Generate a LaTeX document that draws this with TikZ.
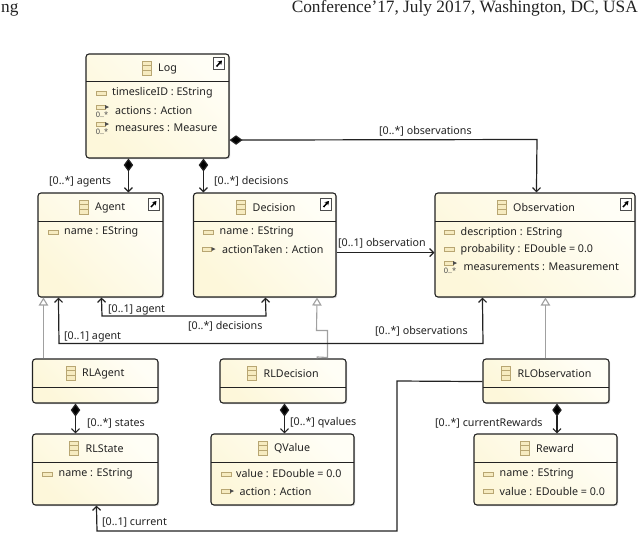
\documentclass[tikz,border=0pt]{standalone}
\usepackage{fontspec}
\setmainfont{Liberation Serif}
\newfontfamily\uml{Noto Sans}
\usetikzlibrary{arrows.meta,shadows,calc}
\definecolor{cA}{HTML}{FFFEF6}
\definecolor{cB}{HTML}{FDF7DA}
\definecolor{tan}{HTML}{B8A672}
\definecolor{tanf}{HTML}{F6EBC0}
\definecolor{inkc}{HTML}{222222}
\definecolor{gen}{HTML}{A0A0A0}
\tikzset{
 umlbox/.style={draw=inkc,line width=1.1pt,rounded corners=3pt,inner sep=0pt,
   left color=cA,right color=cB,shading angle=-45,
   drop shadow={shadow xshift=1.2pt,shadow yshift=-1.2pt,fill=black!30,opacity=.6}},
 lab/.style={font=\uml\fontsize{10.7}{12}\selectfont,text=inkc,inner sep=0pt,anchor=west,yshift=-1.3pt},
 ttl/.style={font=\uml\fontsize{10.7}{12}\selectfont,text=inkc,inner sep=0pt,anchor=west,yshift=-1pt},
 conn/.style={draw=inkc,line width=1.2pt,-{Straight Barb[length=4pt,width=8pt,line width=1.2pt]}},
 dconn/.style={draw=inkc,line width=1.2pt,{Straight Barb[length=4pt,width=8pt,line width=1.2pt]}-{Straight Barb[length=4pt,width=8pt,line width=1.2pt]}},
 comp/.style={draw=inkc,line width=1.2pt,{Diamond[length=13pt,width=9.5pt,fill=black]}-{Straight Barb[length=4pt,width=8pt,line width=1.2pt]}},
 gener/.style={draw=gen,line width=1.1pt,-{Triangle[open,length=8pt,width=9.5pt,fill=white]}},
 hdr/.style={font=\fontsize{17.3}{19}\selectfont,text=inkc,inner sep=0pt},
}
\newcommand{\ubox}[6]{% name x1 y1 x2 y2 yline
 \node[umlbox,minimum width=#4pt-#2pt,minimum height=#5pt-#3pt] (#1) at ({(#2+#4)/2},{(#3+#5)/2}) {};
 \draw[inkc,line width=.9pt] (#2,#6) -- (#4,#6);}
\newcommand{\clsicon}[2]{% cx cy
 \draw[tan,fill=tanf,line width=.8pt] (#1-4.5,#2-7) rectangle (#1+4.5,#2+7);
 \draw[tan,line width=.7pt] (#1-4.5,#2-2.3) -- (#1+4.5,#2-2.3) (#1-4.5,#2+2.3) -- (#1+4.5,#2+2.3);}
\newcommand{\attricon}[2]{\draw[tan,fill=tanf,line width=.9pt] (#1-5,#2-2) rectangle (#1+5,#2+2);}
\newcommand{\reficon}[2]{\draw[tan,fill=tanf,line width=.9pt] (#1-6,#2-2) rectangle (#1+3,#2+2);
 \fill[black!70] (#1+3,#2-2) -- (#1+7,#2) -- (#1+3,#2+2) -- cycle;}
\newcommand{\manyicon}[2]{\reficon{#1}{#2}
 \node[font=\uml\fontsize{7.5}{8}\selectfont\bfseries,text=black!70,inner sep=0pt] at (#1,#2+7.5) {0..*};}
\newcommand{\linkicon}[2]{\draw[black!70,fill=white,line width=.8pt] (#1-5.5,#2-6) rectangle (#1+5.5,#2+6);
 \draw[black,line width=1.5pt,-{Stealth[length=4pt,width=5pt]}] (#1-2.5,#2+3) -- (#1+3,#2-3);}
\begin{document}
\begin{tikzpicture}[x=1pt,y=-1pt]
\useasboundingbox[fill=white] (0,0) rectangle (640,533);
\node[hdr,anchor=base west] (hl) at (1,12.5) {ng};
\node[hdr,anchor=base east] (hr) at (638,12.5) {Conference'17, July 2017, Washington, DC, USA};

\ubox{log}{86}{54}{229}{158}{81}
\ubox{agent}{38}{193}{163}{297}{221}
\ubox{decision}{193.5}{193}{336}{297}{221}
\ubox{obs}{435}{193}{635}{297}{221}
\ubox{rlagent}{32.5}{359}{158}{403}{387}
\ubox{rldec}{220}{359}{346}{403}{387}
\ubox{rlobs}{483}{359}{609}{403}{387}
\ubox{rlstate}{32.5}{434}{158}{505}{462}
\ubox{qvalue}{211}{434}{354}{505}{462}
\ubox{reward}{474}{434}{617}{505}{462}

% titles
\clsicon{146.5}{68}\node[ttl] (t1) at (158,67.5) {Log};
\clsicon{83.5}{207}\node[ttl] (t2) at (95,206.5) {Agent};
\clsicon{241}{207}\node[ttl] (t3) at (252.5,206.5) {Decision};
\clsicon{501.5}{207}\node[ttl] (t4) at (513,206.5) {Observation};
\clsicon{70.5}{373}\node[ttl] (t5) at (82,372.5) {RLAgent};
\clsicon{252}{373}\node[ttl] (t6) at (263.5,372.5) {RLDecision};
\clsicon{506}{373}\node[ttl] (t7) at (517.5,372.5) {RLObservation};
\clsicon{73.5}{448}\node[ttl] (t8) at (85.5,447.5) {RLState};
\clsicon{263}{448}\node[ttl] (t9) at (274,447.5) {QValue};
\clsicon{524.5}{448}\node[ttl] (t10) at (536,447.5) {Reward};

\linkicon{219}{63.5}\linkicon{153.5}{204}\linkicon{326}{204}\linkicon{625.5}{204}

% attributes
\attricon{101}{93}\node[lab] (a1) at (112,91.5) {timesliceID : EString};
\manyicon{102}{107}\node[lab] (a2) at (115,109) {actions : Action};
\manyicon{102}{124}\node[lab] (a3) at (115,126) {measures : Measure};
\attricon{53}{232.5}\node[lab] (a4) at (64,231) {name : EString};
\attricon{208}{232.5}\node[lab] (a5) at (219.5,231) {name : EString};
\reficon{208.5}{249}\node[lab] (a6) at (222,248) {actionTaken : Action};
\attricon{449}{232.5}\node[lab] (a7) at (460.5,231) {description : EString};
\attricon{449}{249.5}\node[lab] (a8) at (460.5,248) {probability : EDouble = 0.0};
\manyicon{450}{263}\node[lab] (a9) at (463.5,265.5) {measurements : Measurement};
\attricon{47.5}{474}\node[lab] (a10) at (58.5,472.5) {name : EString};
\attricon{226}{474}\node[lab] (a11) at (236,472.5) {value : EDouble = 0.0};
\reficon{227}{491}\node[lab] (a12) at (239.5,490) {action : Action};
\attricon{488.5}{474}\node[lab] (a13) at (499.5,472.5) {name : EString};
\attricon{488.5}{491}\node[lab] (a14) at (499.5,490) {value : EDouble = 0.0};

% generalizations
\draw[gener] ([xshift=11.5pt]rlagent.north west) -- ([xshift=6pt]agent.south west);
\draw[gener] ([xshift=-29.5pt]rldec.north east) -- ++(0,-1.5) -- (327.5,357.5) -- (327.5,330.5) -- (316.5,330.5) -- ([xshift=-19.5pt]decision.south east);
\draw[gener] ([xshift=63pt]rlobs.north west) -- ([xshift=111pt]obs.south west);

% compositions
\draw[comp] ([xshift=43pt]log.south west) -- ([xshift=91pt]agent.north west);
\draw[comp] ([xshift=118pt]log.south west) -- ([xshift=10.5pt]decision.north west);
\draw[comp] ([xshift=-19.75pt]rlagent.south) -- ([xshift=-19.75pt]rlstate.north);
\draw[comp] ([xshift=1.5pt]rldec.south) -- ([xshift=2pt]qvalue.north);
\draw[comp] ([xshift=11pt]rlobs.south) -- ([xshift=11.5pt]reward.north);
\draw[comp] ([yshift=18.5pt]log.south east) -- (537,139.5) -- ([xshift=102pt]obs.north west);

% associations
\draw[conn] ([yshift=45pt]decision.south east) -- ([yshift=45pt]obs.south west);
\draw[dconn] ([xshift=64pt]agent.south west) -- (102,316) -- (266,316) -- ([xshift=72.5pt]decision.south west);
\draw[dconn] ([xshift=21pt]agent.south west) -- (59,343.5) -- (483,343.5) -- ([xshift=48pt]obs.south west);
\draw[conn] ([yshift=22pt]rlobs.south west) -- (397,381) -- (397,531) -- (97,531) -- ([xshift=64.5pt]rlstate.south west);

% labels
\node[lab] (l1) at (49,180) {[0..*] agents};
\node[lab] (l2) at (214,180) {[0..*] decisions};
\node[lab] (l3) at (379,129.5) {[0..*] observations};
\node[lab] (l4) at (338,242) {[0..1] observation};
\node[lab] (l5) at (108,309) {[0..1] agent};
\node[lab] (l6) at (188,324.5) {[0..*] decisions};
\node[lab] (l7) at (64,335.5) {[0..1] agent};
\node[lab] (l8) at (375,330) {[0..*] observations};
\node[lab] (l9) at (87,421.5) {[0..*] states};
\node[lab] (l10) at (290,421.5) {[0..*] qvalues};
\node[lab] (l11) at (435,421.5) {[0..*] currentRewards};
\node[lab] (l12) at (102,521) {[0..1] current};
\end{tikzpicture}
\end{document}
